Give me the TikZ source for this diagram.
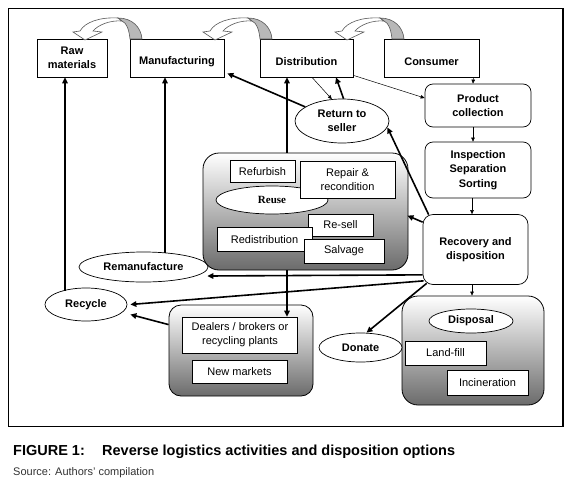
\documentclass[tikz,border=0pt]{standalone}
\usepackage{fontspec}
\setmainfont{Liberation Sans}
\newfontfamily\serifbf{Liberation Serif}
\usetikzlibrary{arrows.meta,calc,shapes.geometric}
\newcommand\fs{\fontsize{11}{14}\selectfont}
\newcommand\low[1]{\rule{0pt}{14.5pt}#1}
\newcommand\mycurve[1]{%
 \begin{scope}[shift={(#1,0)}]
  \draw[curv, fill=white] (-12,18) .. controls (-30,17) and (-45,22) .. (-50,31) -- (-57,32) -- (-45,40) -- (-28,32) -- (-37,31) .. controls (-32,25) and (-20,20) .. (-8,21) -- cycle;
  \draw[curv, fill=black!28] (-12,18) .. controls (2,18) and (11,27) .. (12,39) -- (0,39) .. controls (-1,30) and (-3,23) .. (-8,21) -- cycle;
 \end{scope}}
\begin{document}
\begin{tikzpicture}[x=1pt,y=-1pt,
  box/.style={draw, line width=0.7pt, fill=white, inner sep=0pt, align=center, font={\fs\bfseries}},
  rbox/.style={box, rounded corners=8pt},
  wbox/.style={draw, line width=0.6pt, fill=white, inner sep=0pt, align=center, font=\fs},
  oval/.style={ellipse, draw, line width=0.7pt, fill=white, inner sep=0pt, align=center, font={\fs\bfseries}},
  shadebox/.style={draw, line width=0.8pt, rounded corners=15pt, top color=white, bottom color=black!58, inner sep=0pt},
  thkarr/.style={line width=1.6pt, -{Triangle[length=6pt,width=5.5pt]}},
  thnarr/.style={line width=0.5pt, -{Triangle[length=4pt,width=3.5pt]}},
  curv/.style={draw=black!65, line width=0.6pt}]
\useasboundingbox (0,0) rectangle (580,482);
\fill[white] (0,0) rectangle (580,482);
\draw[line width=1.1pt] (8.5,8.5) rectangle (563,426.5);

% top row
\node[box, minimum width=70pt, minimum height=38pt] (raw) at (72,58) {Raw\\materials};
\node[box, minimum width=94pt, minimum height=38pt] (manuf) at (177,58) {\low{Manufacturing}};
\node[box, minimum width=93pt, minimum height=38pt] (dist) at (306.5,58) {\low{Distribution}};
\node[box, minimum width=95pt, minimum height=38pt] (cons) at (431.5,58) {\low{Consumer}};
\mycurve{130}
\mycurve{260}
\mycurve{392}

% right column
\node[rbox, minimum width=106pt, minimum height=43pt] (prodcol) at (478,105.5) {Product\\collection};
\node[rbox, minimum width=106pt, minimum height=56pt, font={\fontsize{11}{14.5}\selectfont\bfseries}] (insp) at (478,170) {Inspection\\Separation\\Sorting};
\node[rbox, rounded corners=10pt, minimum width=105pt, minimum height=70pt] (recov) at (475.5,249.5) {Recovery and\\disposition};

% disposal group
\node[shadebox, rounded corners=16pt, minimum width=142pt, minimum height=109pt] (dispbox) at (473,350.5) {};
\node[oval, minimum width=84pt, minimum height=24pt] (disposal) at (471,321) {Disposal};
\node[wbox, minimum width=81pt, minimum height=24pt] (landfill) at (445.5,353) {Land-fill};
\node[wbox, minimum width=81pt, minimum height=25pt] (incin) at (487.5,382.5) {Incineration};
\node[oval, minimum width=83pt, minimum height=29pt] (donate) at (360.5,347.5) {Donate};

% dealers group
\node[shadebox, rounded corners=12pt, minimum width=144pt, minimum height=91pt] (dealbox) at (241,350.5) {};
\node[wbox, minimum width=115pt, minimum height=36pt] (dealers) at (240,335) {Dealers / brokers or\\recycling plants};
\node[wbox, minimum width=95pt, minimum height=23pt] (newmk) at (239.5,371.5) {New markets};

% left ovals
\node[oval, minimum width=82pt, minimum height=33pt] (recyc) at (86,304.5) {Recycle};
\node[oval, minimum width=129pt, minimum height=30pt] (reman) at (143.5,267) {Remanufacture};

% reuse group
\node[shadebox, rounded corners=16pt, minimum width=205pt, minimum height=117pt] (reusebox) at (305.5,211.5) {};
\node[wbox, minimum width=65pt, minimum height=22pt] (refurb) at (262.5,171.5) {Refurbish};
\node[oval, minimum width=112pt, minimum height=28pt, font={\fs\serifbf\bfseries}] (reuse) at (272,200) {Reuse};
\node[wbox, minimum width=95pt, minimum height=37pt] (repair) at (347.5,179.5) {Repair \&\\recondition};
\node[wbox, minimum width=65pt, minimum height=22pt] (resell) at (340.5,225) {Re-sell};
\node[wbox, minimum width=95pt, minimum height=24pt] (redist) at (264.5,239.5) {Redistribution};
\node[wbox, minimum width=80pt, minimum height=24pt] (salvage) at (344,251) {Salvage};

% return to seller
\node[oval, minimum width=94pt, minimum height=44pt] (ret) at (342,121) {Return to\\seller};

% thin connectors
\draw[thnarr] ($(dist.south east)+(0,-2)$) -- ($(prodcol.west)+(0,-7.5)$);
\draw[thnarr] ($(cons.south east)+(-6,0)$) -- ($(prodcol.north)+(-5,0)$);
\draw[thnarr] ($(prodcol.south)+(-5,0)$) -- ($(insp.north)+(-5,0)$);
\draw[thnarr] ($(insp.south)+(-6,0)$) coordinate (q1) -- (q1 |- recov.north);
\draw[thnarr] ($(recov.south)+(-3.5,0)$) coordinate (q2) -- (q2 |- dispbox.north);
\draw[thnarr] ($(dist.south)+(5.5,0)$) -- (ret.115);

% thick connectors
\draw[thkarr] (ret.86) -- ($(dist.south)+(29.5,0)$);
\draw[thkarr] (ret.159) -- ($(manuf.south east)+(3,-4)$);
\draw[thkarr] ($(reusebox.north)+(-18.5,0)$) coordinate (q3) -- (q3 |- dist.south);
\draw[thkarr] ($(reusebox.south)+(-18.5,0)$) coordinate (q4) -- (q4 |- dealers.north);
\draw[thkarr] ($(recov.north west)+(6,0.5)$) -- (ret.-8);
\draw[thkarr] ($(recov.north west)+(0,8)$) -- ($(reusebox.north east)+(-1,63)$);
\draw[thkarr] ($(recov.south west)+(0,-10)$) -- ($(reman.east)+(-1,9)$);
\draw[thkarr] ($(recov.south west)+(1,-4)$) -- ($(recyc.east)+(3,0)$);
\draw[thkarr] ($(dealbox.north west)+(0,20)$) -- ($(recyc.east)+(3,10)$);
\draw[thkarr] ($(recov.south west)+(4,-1.5)$) -- ($(donate.north)+(6,0)$);
\draw[thkarr] ($(recyc.north)+(-21,3)$) coordinate (q5) -- (q5 |- raw.south);
\draw[thkarr] ($(reman.north)+(21.5,1)$) coordinate (q6) -- (q6 |- manuf.south);

% caption
\node[anchor=base west, inner sep=0pt, font={\fontsize{14.5}{16}\selectfont\bfseries}] (figlab) at (13,455) {FIGURE 1:};
\node[anchor=base west, inner sep=0pt, font={\fontsize{14.5}{16}\selectfont\bfseries}] (figcap) at (102,455) {Reverse logistics activities and disposition options};
\node[anchor=base west, inner sep=0pt, font={\fontsize{11}{13}\selectfont}, text=black!80] (source) at (13,475) {Source: Authors’ compilation};
\end{tikzpicture}
\end{document}
